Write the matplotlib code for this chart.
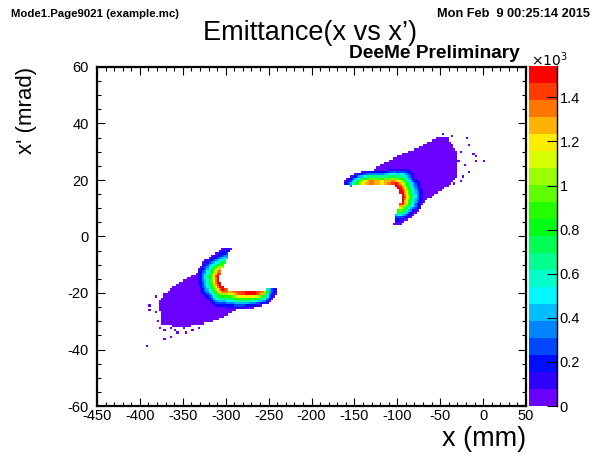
import colorsys
import numpy as np
import matplotlib
matplotlib.use("Agg")
import matplotlib.pyplot as plt
from matplotlib.colors import ListedColormap, BoundaryNorm
from matplotlib.path import Path

plt.rcParams['font.family'] = ['Liberation Sans', 'DejaVu Sans']
plt.rcParams['axes.unicode_minus'] = False

# ---- data ----
# crescent ridge (inner sharp edge), peak counts and length of the colour band outward (px)
low_ridge_x = [-298.1, -302.8, -306.6, -308.6, -307.8, -303.5, -295.0, -283.3, -267.8, -256.2, -247.7]
low_ridge_y = [-6.9, -9.5, -11.9, -14.2, -16.6, -18.7, -19.5, -20.1, -20.1, -19.8, -18.9]
low_peak = [350, 800, 1300, 1540, 1500, 1500, 1250, 1450, 1500, 1350, 300]
low_band = [11, 16, 21, 23, 23, 21, 19, 17, 15, 13, 9]

up_ridge_x = [-100.7, -96.8, -94.5, -93.7, -95.7, -98.8, -104.7, -116.3, -131.8, -143.5, -154.3]
up_ridge_y = [7.0, 9.4, 11.8, 14.1, 16.5, 18.2, 19.0, 19.3, 19.3, 19.0, 18.5]
up_peak = [300, 1000, 1450, 1540, 1500, 1500, 1450, 1200, 1350, 1100, 350]
up_band = [11, 16, 21, 23, 23, 21, 16, 13, 12, 11, 9]

# low-count halo outlines
low_halo_x = [-316.3, -331.9, -353.3, -370.7, -376.6, -375.8, -361.1, -341.6, -322.1, -302.8,
              -289.2, -275.5, -269.7, -267.8, -283.3, -295.0, -303.5, -307.8, -308.6, -306.6,
              -302.8, -298.1]
low_halo_y = [-9.7, -12.5, -16.0, -20.1, -22.5, -30.7, -31.7, -31.7, -30.7, -28.6,
              -26.3, -23.9, -23.1, -20.1, -20.1, -19.5, -18.7, -16.6, -14.2, -11.9,
              -9.5, -6.9]
up_halo_x = [-122.1, -108.5, -96.9, -77.4, -61.9, -50.2, -40.6, -30.8, -28.9, -30.8,
             -42.4, -54.1, -65.7, -73.5, -90.0, -93.7, -95.7, -98.8, -104.7, -116.3,
             -131.8, -143.5, -135.0]
up_halo_y = [24.7, 27.1, 29.1, 31.2, 33.6, 35.3, 34.8, 30.0, 24.7, 20.6,
             17.6, 15.3, 12.9, 11.2, 9.0, 14.1, 16.5, 18.2, 19.0, 19.3,
             19.3, 19.0, 22.5]
halo_count = 40

# isolated single entries at the edges
stray_x = [-390.2, -370.7, -364.9, -355.2, -345.5, -339.6, -381.2, -387.5, -387.5, -382.4,
           -378.5, -376.6, -363.0, -349.4, -331.9, -372.0, -358.0,
           -36.7, -19.2, -16.1, -25.1, -11.4, -7.5, -7.5, 0.2, -17.3, -23.8,
           -26.9, -32.8, -40.6, -54.1, -45.0, -28.0, -21.0, -33.0]
stray_y = [-38.4, -36.6, -35.5, -34.3, -34.1, -33.3, -21.3, -24.6, -26.3, -26.6,
           -29.6, -32.5, -32.1, -32.1, -32.1, -33.5, -33.0,
           35.9, 34.8, 32.7, 30.0, 29.4, 28.8, 26.5, 26.5, 22.9, 21.2,
           19.8, 18.8, 33.2, 34.8, 36.5, 27.0, 25.0, 22.0]
stray_count = 20

x_edges = np.linspace(-450, 50, 201)
y_edges = np.linspace(-60, 60, 151)
zmax = 1542
x_ticks = np.arange(-450, 51, 50)
y_ticks = np.arange(-60, 61, 20)
z_ticks = [0, 200, 400, 600, 800, 1000, 1200, 1400]
z_labels = ['0', '0.2', '0.4', '0.6', '0.8', '1', '1.2', '1.4']

# pixel scale of the frame, so distances are measured as they look
SX, SY = 429 / 500, 339 / 120

xc = 0.5 * (x_edges[:-1] + x_edges[1:])
yc = 0.5 * (y_edges[:-1] + y_edges[1:])
X, Y = np.meshgrid(xc, yc)


def crescent(rx, ry, peak, band):
    px = np.array(rx) * SX
    py = np.array(ry) * SY
    U, V = X * SX, Y * SY
    best = np.full(U.shape, np.inf)
    sd = np.zeros(U.shape)
    pk = np.zeros(U.shape)
    bd = np.ones(U.shape)
    for i in range(len(px) - 1):
        dx, dy = px[i + 1] - px[i], py[i + 1] - py[i]
        L2 = dx * dx + dy * dy
        t = np.clip(((U - px[i]) * dx + (V - py[i]) * dy) / L2, 0, 1)
        qx, qy = px[i] + t * dx, py[i] + t * dy
        rx_, ry_ = U - qx, V - qy
        dist = np.hypot(rx_, ry_)
        cross = dx * ry_ - dy * rx_
        m = dist < best
        best[m] = dist[m]
        sd[m] = np.where(cross[m] <= 0, dist[m], -dist[m])
        pk[m] = peak[i] + t[m] * (peak[i + 1] - peak[i])
        bd[m] = band[i] + t[m] * (band[i + 1] - band[i])
    frac = 1.0 - (sd - 1.0) / bd
    val = np.where(sd < -1.5, 0.0, np.where(sd <= 1.0, pk, pk * np.clip(frac, 0, 1) ** 1.6))
    val[val < halo_count] = 0
    return val


def halo(hx, hy):
    path = Path(np.column_stack([hx, hy]))
    inside = path.contains_points(np.column_stack([X.ravel(), Y.ravel()]))
    return np.where(inside.reshape(X.shape), halo_count, 0.0)


H = np.zeros(X.shape)
H = np.maximum(H, halo(low_halo_x, low_halo_y))
H = np.maximum(H, halo(up_halo_x, up_halo_y))
H = np.maximum(H, crescent(low_ridge_x, low_ridge_y, low_peak, low_band))
H = np.maximum(H, crescent(up_ridge_x, up_ridge_y, up_peak, up_band))
ix = np.searchsorted(x_edges, stray_x) - 1
iy = np.searchsorted(y_edges, stray_y) - 1
H[iy, ix] = np.maximum(H[iy, ix], stray_count)
H = np.ma.masked_where(H <= 0, H)

# ROOT-like rainbow palette, 20 contour levels
cols = [colorsys.hsv_to_rgb((265 * (1 - i / 19)) / 360, 1, 1) for i in range(20)]
cmap = ListedColormap(cols)
norm = BoundaryNorm(np.linspace(0, zmax, 21), 20)

fig = plt.figure(figsize=(5.96, 4.58), dpi=100)
ax = fig.add_axes([97 / 596, 1 - 406 / 458, 429 / 596, 339 / 458])
mesh = ax.pcolormesh(x_edges, y_edges, H, cmap=cmap, norm=norm)
ax.set_xlim(-450, 50)
ax.set_ylim(-60, 60)
ax.set_xticks(x_ticks)
ax.set_yticks(y_ticks)
ax.set_xticks(np.arange(-450, 51, 10), minor=True)
ax.set_yticks(np.arange(-60, 61, 5), minor=True)
ax.tick_params(which='both', direction='in', top=True, right=True, width=0.8, labelsize=10.5)
ax.tick_params(which='major', length=6)
ax.tick_params(which='minor', length=3)
ax.tick_params(axis='x', pad=2)
ax.tick_params(axis='y', pad=6)
for s in ax.spines.values():
    s.set_linewidth(1.6)

ax.set_xlabel('x (mm)', fontsize=19.5, loc='right', labelpad=2)
ax.set_ylabel("x' (mrad)", fontsize=16, loc='top', labelpad=22)

cax = fig.add_axes([529 / 596, 1 - 406 / 458, 28 / 596, 340 / 458])
cb = fig.colorbar(mesh, cax=cax, ticks=z_ticks)
cb.outline.set_visible(False)
cax.set_yticklabels(z_labels)
cax.tick_params(direction='in', length=7, width=0.8, labelsize=10.5, pad=2, color='black')
cax.plot([1, 1], [0, 1], color='black', lw=1.0, transform=cax.transAxes, clip_on=False)
cax.minorticks_off()

fig.text(531 / 596, 1 - 66 / 458, r'$\times10^{3}$', fontsize=10, ha='left', va='baseline')
fig.text(11 / 596, 1 - 17 / 458, 'Mode1.Page9021 (example.mc)', fontsize=8.2,
         fontweight='bold', ha='left', va='baseline')
fig.text(590 / 596, 1 - 17 / 458, 'Mon Feb  9 00:25:14 2015', fontsize=9.2,
         fontweight='bold', ha='right', va='baseline')
fig.text(310 / 596, 1 - 33 / 458, "Emittance(x vs x\u2019)", fontsize=19.5,
         ha='center', va='center')
fig.text(520 / 596, 1 - 58 / 458, 'DeeMe Preliminary', fontsize=13.8,
         fontweight='bold', ha='right', va='baseline')

fig.savefig('out.png', dpi=100)
